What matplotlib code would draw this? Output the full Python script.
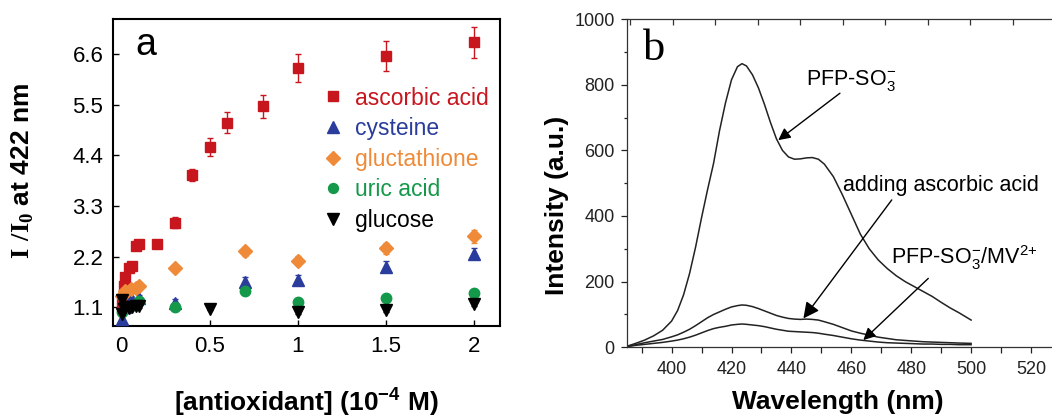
import numpy as np
import matplotlib
matplotlib.use("Agg")
import matplotlib.pyplot as plt
from matplotlib.lines import Line2D
from matplotlib.ticker import MultipleLocator, FixedLocator

plt.rcParams["font.family"] = ["Liberation Sans", "DejaVu Sans"]
plt.rcParams["mathtext.fontset"] = "custom"
plt.rcParams["mathtext.rm"] = "Liberation Sans"
plt.rcParams["mathtext.bf"] = "Liberation Sans:bold"
plt.rcParams["mathtext.cal"] = "Liberation Serif:bold"

# ---- panel a: I/I0 at 422 nm vs antioxidant concentration (1e-4 M)
asc_x = [0, 0.01, 0.02, 0.04, 0.06, 0.08, 0.1, 0.2, 0.3, 0.4, 0.5, 0.6, 0.8, 1.0, 1.5, 2.0]
asc_y = [1.2, 1.55, 1.75, 1.95, 2.0, 2.42, 2.48, 2.47, 2.93, 3.97, 4.58, 5.11, 5.46, 6.3, 6.56, 6.85]
asc_e = [0.05, 0.05, 0.05, 0.05, 0.05, 0.06, 0.06, 0.08, 0.12, 0.13, 0.2, 0.22, 0.25, 0.3, 0.33, 0.34]

cys_x = [0, 0.02, 0.05, 0.1, 0.3, 0.7, 1.0, 1.5, 2.0]
cys_y = [0.85, 1.1, 1.3, 1.3, 1.2, 1.65, 1.7, 1.98, 2.26]
cys_e = [0.05, 0.05, 0.05, 0.06, 0.08, 0.1, 0.1, 0.12, 0.12]

glu_x = [0, 0.02, 0.05, 0.08, 0.1, 0.3, 0.7, 1.0, 1.5, 2.0]
glu_y = [1.35, 1.45, 1.5, 1.52, 1.55, 1.94, 2.31, 2.11, 2.38, 2.64]
glu_e = [0.05, 0.05, 0.05, 0.05, 0.06, 0.08, 0.1, 0.1, 0.12, 0.14]

uric_x = [0, 0.02, 0.05, 0.1, 0.3, 0.7, 1.0, 1.5, 2.0]
uric_y = [1.0, 1.1, 1.12, 1.24, 1.11, 1.46, 1.21, 1.29, 1.41]
uric_e = [0.04, 0.04, 0.04, 0.05, 0.05, 0.08, 0.05, 0.05, 0.06]

gluc_x = [0, 0, 0.01, 0.02, 0.04, 0.06, 0.08, 0.1, 0.5, 1.0, 1.5, 2.0]
gluc_y = [1.25, 0.95, 1.05, 1.1, 1.08, 1.1, 1.12, 1.12, 1.07, 0.99, 1.04, 1.16]
gluc_e = [0.04] * 12

series = [
    ("ascorbic acid", asc_x, asc_y, asc_e, "s", "#c8161e", 7.5),
    ("cysteine", cys_x, cys_y, cys_e, "^", "#2a3c9c", 8.5),
    ("gluctathione", glu_x, glu_y, glu_e, "D", "#ee8a38", 7),
    ("uric acid", uric_x, uric_y, uric_e, "o", "#14984a", 7.5),
    ("glucose", gluc_x, gluc_y, gluc_e, "v", "#000000", 8.5),
]

# ---- panel b: emission spectra
wl = [385, 388, 391, 394, 397, 400, 402, 404, 406, 408, 410, 412, 414, 416,
      418, 420, 422, 423.5, 425, 427, 429, 431, 433, 435, 437, 439, 441,
      443, 445, 447, 449, 451, 454, 457, 460, 463, 466, 469, 472, 475, 478,
      481, 484, 487, 490, 493, 496, 500]
pfp = [3, 12, 22, 35, 52, 80, 112, 160, 225, 305, 395, 480, 560, 660,
       745, 815, 855, 864, 857, 830, 790, 740, 685, 635, 600, 580, 573,
       574, 577, 578, 573, 558, 520, 465, 405, 345, 300, 266, 240, 218, 200,
       185, 170, 155, 137, 120, 105, 83]
pfp_asc = [2, 8, 14, 19, 24, 32, 38, 46, 55, 66, 78, 90, 100, 108,
           116, 123, 127, 129, 128, 124, 118, 111, 104, 97, 92, 88, 86,
           85, 86, 85, 83, 78, 70, 60, 50, 43, 37, 31, 27, 23, 21,
           19, 17, 16, 15, 14, 13, 12]
pfp_mv = [2, 6, 9, 12, 15, 19, 22, 26, 31, 37, 44, 51, 57, 61,
          64, 68, 70, 71, 70, 68, 66, 63, 59, 55, 52, 49, 48,
          47, 46, 45, 43, 40, 36, 31, 26, 22, 19, 16, 14, 13, 12,
          11, 10, 10, 9, 9, 8, 8]

fig = plt.figure(figsize=(10.52, 4.17), dpi=100)

# ================= panel a
ax = fig.add_axes([0.1074, 0.2182, 0.3679, 0.7362])
handles = []
for label, x, y, e, m, c, ms in series:
    ax.errorbar(x, y, yerr=e, fmt=m, color=c, ms=ms, mec=c, ecolor=c,
                elinewidth=1, capsize=2, capthick=1, zorder=3)
    handles.append(Line2D([], [], ls="none", marker=m, color=c, mec=c,
                          ms=ms * 0.95, label=label))
ax.set_xlim(-0.05, 2.15)
ax.set_ylim(0.69, 7.36)
ax.set_xticks([0, 0.5, 1, 1.5, 2])
ax.set_xticklabels(["0", "0.5", "1", "1.5", "2"])
ax.set_yticks([1.1, 2.2, 3.3, 4.4, 5.5, 6.6])
ax.tick_params(direction="in", length=4.5, width=1, labelsize=16, pad=7)
for s in ax.spines.values():
    s.set_linewidth(1.5)
leg = ax.legend(handles=handles, loc="upper left", bbox_to_anchor=(0.515, 0.81),
                frameon=False, fontsize=16.5, handlelength=1.0,
                handletextpad=0.45, labelspacing=0.33, borderaxespad=0)
for t, s in zip(leg.get_texts(), series):
    t.set_color(s[5])
ax.text(0.057, 0.883, "a", transform=ax.transAxes, fontsize=27,
        family="Liberation Sans", va="baseline")
fig.text(0.022, 0.589, r"$\mathcal{I\ /I}_{\mathcal{0}}$ at 422 nm", rotation=90,
         fontsize=19, fontweight="bold", ha="center", va="center")
fig.text(0.2915, 0.036, r"[antioxidant] (10$^{\mathbf{-4}}$ M)", fontsize=19,
         fontweight="bold", ha="center", va="center")

# ================= panel b
bx = fig.add_axes([0.5957, 0.1671, 0.4043, 0.7873])
for yv in (pfp, pfp_asc, pfp_mv):
    bx.plot(wl, yv, color="#222222", lw=1.1)
bx.set_xlim(385, 527)
bx.set_ylim(0, 1000)
bx.spines["right"].set_visible(False)
for s in ("left", "bottom", "top"):
    bx.spines[s].set_linewidth(0.9)
    bx.spines[s].set_color("#333333")
bx.xaxis.set_major_locator(MultipleLocator(20))
bx.xaxis.set_minor_locator(MultipleLocator(10))
bx.yaxis.set_major_locator(MultipleLocator(200))
bx.yaxis.set_minor_locator(MultipleLocator(100))
bx.tick_params(which="major", direction="out", length=4.5, width=0.9,
               labelsize=13, colors="#222222", pad=4)
bx.tick_params(which="minor", direction="out", length=2.5, width=0.9, colors="#222222")
bx.tick_params(axis="x", which="both", bottom=True, top=False, length=4)
bx.tick_params(axis="x", which="major", pad=6)

top = bx.twiny()
top.set_xlim(0, 10)
top.xaxis.set_major_locator(FixedLocator(np.arange(0.08, 10, 1.0)))
top.tick_params(axis="x", direction="in", length=4, width=0.9, labeltop=False,
                colors="#333333")
for s in top.spines.values():
    s.set_visible(False)

bx.text(0.038, 0.875, "b", transform=bx.transAxes, fontsize=32,
        family="Liberation Serif", va="baseline")

arrow_kw = dict(arrowstyle="-|>", color="black", lw=1.0, shrinkA=0, shrinkB=0)
bx.annotate("", xy=(435.6, 631), xytext=(456.2, 774),
            arrowprops=dict(mutation_scale=18, **arrow_kw))
bx.annotate("", xy=(444.0, 88), xytext=(473.5, 449),
            arrowprops=dict(mutation_scale=24, **arrow_kw))
bx.annotate("", xy=(464.0, 22), xytext=(485.7, 210),
            arrowprops=dict(mutation_scale=18, **arrow_kw))
bx.text(445.0, 812, r"PFP-SO$_3^{-}$", fontsize=15.5, va="center")
bx.text(457.3, 494, "adding ascorbic acid", fontsize=15.5, va="center")
bx.text(473.4, 272, r"PFP-SO$_3^{-}$/MV$^{2{+}}$", fontsize=15.5, va="center")

fig.text(0.529, 0.508, "Intensity (a.u.)", rotation=90, fontsize=19,
         fontweight="bold", ha="center", va="center")
fig.text(0.796, 0.036, "Wavelength (nm)", fontsize=19, fontweight="bold",
         ha="center", va="center")

fig.savefig("out.png", dpi=100)
